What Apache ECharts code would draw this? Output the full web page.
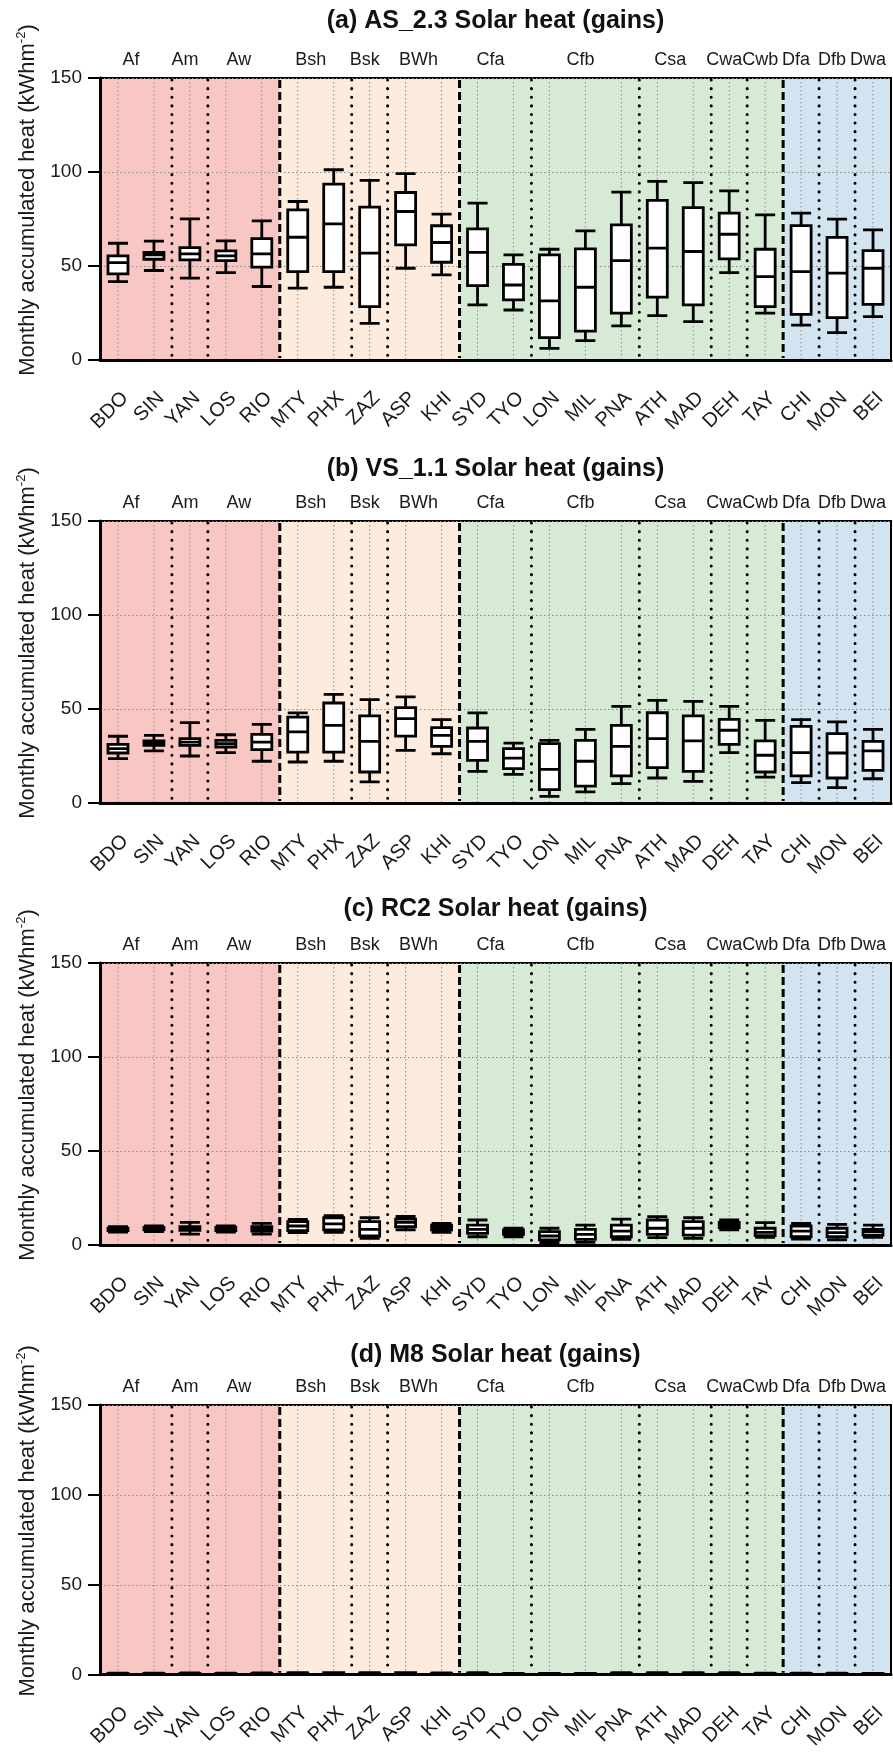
<!DOCTYPE html>
<html><head><meta charset="utf-8">
<script src="https://cdn.jsdelivr.net/npm/echarts@6/dist/echarts.min.js"></script>
<style>html,body{margin:0;padding:0;background:#fff}#c{width:893px;height:1752px}</style>
</head><body><div id="c"></div>
<script>
// ---------- data ----------
const cities = ['BDO','SIN','YAN','LOS','RIO','MTY','PHX','ZAZ','ASP','KHI','SYD','TYO','LON','MIL','PNA','ATH','MAD','DEH','TAY','CHI','MON','BEI'];
const climateNames = ['Af','Am','Aw','Bsh','Bsk','BWh','Cfa','Cfb','Csa','Cwa','Cwb','Dfa','Dfb','Dwa'];
const climateSizes = [2,1,2,2,1,2,2,3,2,1,1,1,1,1];
const zoneNames = ['A','B','C','D'];
const zoneSizes = [5,5,9,3];
const yTicks = [0,50,100,150];
const panelTitles = ['(a) AS_2.3 Solar heat (gains)','(b) VS_1.1 Solar heat (gains)','(c) RC2 Solar heat (gains)','(d) M8 Solar heat (gains)'];
const yAxisName = 'Monthly accumulated heat (kWhm';
const yAxisUnitSup = '-2';
// [min, Q1, median, Q3, max]
const AS_2_3 = [
  [41.7,45.8,51.8,55.4,62.1],[47.6,53.6,55.9,57.3,63.2],[43.5,53.3,56.5,59.8,75.1],[46.5,52.9,55.4,58.0,63.4],[39.1,49.4,56.5,64.6,74.0],
  [38.2,47.0,65.3,79.9,84.3],[38.7,47.0,72.4,93.6,101.2],[19.5,28.4,56.8,81.3,95.5],[48.8,61.2,79.0,89.1,99.1],[45.3,52.0,62.5,71.4,77.6],
  [29.3,39.6,57.3,69.8,83.4],[26.6,32.0,39.9,50.9,55.9],[6.2,11.9,31.4,55.9,58.9],[10.3,15.4,38.7,59.1,68.7],[18.1,24.9,52.9,71.9,89.3],
  [23.6,33.4,59.5,84.9,95.0],[20.4,29.3,57.7,81.1,94.4],[46.5,53.8,66.9,78.1,90.0],[24.9,28.4,44.4,58.9,77.2],
  [18.6,24.3,47.0,71.5,78.1],[14.6,22.5,46.2,65.2,74.9],[23.1,29.6,48.8,58.2,69.2]
];
const VS_1_1 = [
  [23.6,26.6,28.9,31.2,35.5],[27.7,30.7,31.9,33.0,36.0],[25.0,30.7,32.4,34.2,42.7],[26.8,29.8,31.6,33.3,36.3],[22.2,28.4,32.4,36.5,41.8],
  [21.8,27.1,37.8,45.7,47.9],[22.2,27.1,41.3,53.2,57.8],[11.2,16.5,32.8,46.3,55.0],[28.0,35.6,44.9,50.7,56.4],[26.2,30.1,36.0,40.1,44.3],
  [16.8,22.7,32.8,39.9,47.9],[15.2,18.3,23.9,28.9,31.9],[3.5,7.1,17.9,31.6,33.3],[5.9,9.0,22.2,33.3,39.2],[10.3,14.4,30.1,41.3,51.4],
  [13.3,18.8,34.2,48.0,54.6],[11.5,16.8,33.0,46.3,54.1],[26.8,31.2,38.7,44.5,51.4],[13.8,16.5,25.4,33.0,44.0],
  [10.8,14.4,26.8,40.8,44.3],[8.2,13.3,26.6,36.9,43.1],[12.9,17.4,27.7,32.8,39.2]
];
const RC2 = [
  [6.8,7.6,8.2,9.0,9.7],[7.1,8.0,8.7,9.4,10.1],[5.8,7.8,8.7,9.7,12.0],[6.9,7.6,8.5,9.4,10.1],[5.8,7.4,8.5,9.7,11.5],
  [6.6,7.6,10.1,12.4,13.6],[6.7,8.0,11.2,14.5,15.6],[3.5,4.8,8.3,12.4,14.5],[8.0,9.7,12.0,13.8,15.2],[6.7,8.1,9.6,10.6,11.5],
  [4.4,6.2,8.3,10.6,13.3],[4.4,5.7,6.7,8.0,8.9],[1.2,2.7,4.8,7.1,8.9],[1.4,3.0,5.7,8.3,10.6],[3.0,4.4,7.4,10.6,13.8],
  [3.9,5.7,8.9,13.3,15.1],[3.5,5.3,8.9,12.4,14.5],[8.0,9.2,10.6,12.0,13.3],[4.1,5.0,6.7,8.9,11.9],
  [3.2,4.4,7.4,10.1,11.5],[2.7,4.4,6.6,8.9,11.0],[4.1,5.3,7.1,8.3,10.6]
];
const M8 = [
  [0.5,0.6,0.7,0.8,0.9],[0.6,0.7,0.7,0.8,0.9],[0.5,0.6,0.7,0.8,1.0],[0.5,0.6,0.7,0.8,0.9],[0.5,0.6,0.7,0.8,1.0],
  [0.5,0.6,0.8,1.0,1.1],[0.5,0.6,0.9,1.1,1.2],[0.2,0.4,0.7,1.0,1.2],[0.6,0.8,1.0,1.1,1.2],[0.5,0.7,0.8,0.9,1.0],
  [0.4,0.5,0.7,0.9,1.1],[0.3,0.4,0.5,0.6,0.7],[0.1,0.2,0.4,0.7,0.7],[0.1,0.2,0.5,0.7,0.8],[0.2,0.3,0.6,0.9,1.1],
  [0.3,0.4,0.7,1.0,1.2],[0.3,0.4,0.7,1.0,1.2],[0.6,0.7,0.8,0.9,1.1],[0.3,0.4,0.5,0.7,0.9],
  [0.2,0.3,0.6,0.8,0.9],[0.2,0.3,0.5,0.7,0.9],[0.3,0.4,0.6,0.7,0.8]
];
const panels = [AS_2_3, VS_1_1, RC2, M8];

// ---------- styles / layout ----------
const FONT = '"Liberation Sans", Arial, sans-serif';
const zoneColors = ['#F9C7C3','#FDEBDD','#D7EAD6','#D2E4EF'];
const gridTops = [78, 521, 963, 1405];
const titleCenters = [21, 469, 909, 1355];
const GRID_LEFT = 100, GRID_W = 791, GRID_H = 282;
const Y_MAX = yTicks[yTicks.length-1];

function ranges(sizes){ const out=[]; let s=0; sizes.forEach((n,i)=>{ out.push([s, s+n-1, i]); s+=n; }); return out; }
const zoneRanges = ranges(zoneSizes);
const climateRanges = ranges(climateSizes);
const zoneEnds = new Set(zoneRanges.map(r=>r[1]));

const chart = echarts.init(document.getElementById('c'), null, {renderer:'canvas'});
const grids=[], xAxes=[], yAxes=[], series=[], graphics=[];

panels.forEach((pdata, gi)=>{
  grids.push({left:GRID_LEFT, top:gridTops[gi], width:GRID_W, height:GRID_H, show:true,
    borderColor:'#000', borderWidth:2, backgroundColor:'transparent'});
  xAxes.push({type:'category', gridIndex:gi, data:cities, boundaryGap:true,
    axisLine:{lineStyle:{color:'#000', width:3}},
    axisTick:{alignWithLabel:true, length:12, lineStyle:{color:'#000', width:2}},
    axisLabel:{rotate:45, margin:28, fontSize:20, color:'#1a1a1a', fontFamily:FONT, interval:0, verticalAlign:'top'},
    splitLine:{show:false}});
  yAxes.push({type:'value', gridIndex:gi, min:yTicks[0], max:Y_MAX, interval:50,
    axisLine:{show:true, lineStyle:{color:'#000', width:3}},
    axisTick:{show:true, length:12, lineStyle:{color:'#000', width:2}},
    axisLabel:{fontSize:19, color:'#1a1a1a', fontFamily:FONT, margin:18},
    splitLine:{show:true, lineStyle:{type:[1.5,2.5], color:'#8a8a8a', width:1}},
    name:'{t|'+yAxisName+'}{s|'+yAxisUnitSup+'}{t|)}', nameLocation:'middle', nameRotate:90, nameGap:58,
    nameTextStyle:{padding:[0,0,0,38], rich:{
      t:{fontSize:22, fontFamily:FONT, color:'#1a1a1a', lineHeight:26},
      s:{fontSize:13, fontFamily:FONT, color:'#1a1a1a', verticalAlign:'top', lineHeight:26}}}});

  series.push({type:'custom', xAxisIndex:gi, yAxisIndex:gi, z:-1, silent:true, clip:false,
    data: zoneRanges,
    renderItem:(params, api)=>{
      const s=api.value(0), e=api.value(1), zi=api.value(2);
      const bw=api.size([1,0])[0];
      const pT=api.coord([s, Y_MAX]), pB=api.coord([e, 0]);
      const xL=pT[0]-bw/2, xR=pB[0]+bw/2;
      const ch=[{type:'rect', shape:{x:xL, y:pT[1], width:xR-xL, height:pB[1]-pT[1]}, style:{fill:zoneColors[zi]}}];
      for(let k=s;k<=e;k++){
        const x=api.coord([k,0])[0];
        ch.push({type:'line', shape:{x1:x,y1:pT[1],x2:x,y2:pB[1]}, style:{stroke:'#8a8a8a', lineWidth:1, lineDash:[1.5,2.5]}});
      }
      return {type:'group', children:ch};
    }});

  series.push({type:'custom', xAxisIndex:gi, yAxisIndex:gi, z:1, silent:true, clip:false,
    data: climateRanges,
    renderItem:(params, api)=>{
      const s=api.value(0), e=api.value(1), ci=api.value(2);
      const bw=api.size([1,0])[0];
      const pT=api.coord([s, Y_MAX]), pB=api.coord([e, 0]);
      const xL=pT[0]-bw/2, xR=pB[0]+bw/2;
      const ch=[{type:'text', style:{text:climateNames[ci], x:(xL+xR)/2-5, y:pT[1]-18,
        align:'center', verticalAlign:'middle', font:'18px '+FONT, fill:'#1a1a1a'}}];
      if(e < cities.length-1){
        const isZone = zoneEnds.has(e);
        ch.push({type:'line', shape:{x1:xR,y1:pT[1]+2,x2:xR,y2:pB[1]-2},
          style: isZone ? {stroke:'#000', lineWidth:3, lineDash:[8,4], lineCap:'butt'}
                        : {stroke:'#000', lineWidth:3, lineDash:[0.1,8.5], lineCap:'round'}});
      }
      return {type:'group', children:ch};
    }});

  series.push({type:'boxplot', xAxisIndex:gi, yAxisIndex:gi, z:3, data:pdata, boxWidth:[20,20],
    itemStyle:{color:'#fff', borderColor:'#000', borderWidth:2.8},
    emphasis:{disabled:true}, silent:true});

  graphics.push({type:'text', x:GRID_LEFT+GRID_W/2, y:titleCenters[gi],
    style:{text:panelTitles[gi], font:'bold 25px '+FONT, fill:'#111', align:'center', verticalAlign:'middle'}});
});

chart.setOption({animation:false, backgroundColor:'#fff', grid:grids, xAxis:xAxes, yAxis:yAxes, series, graphic:graphics});
</script></body></html>
